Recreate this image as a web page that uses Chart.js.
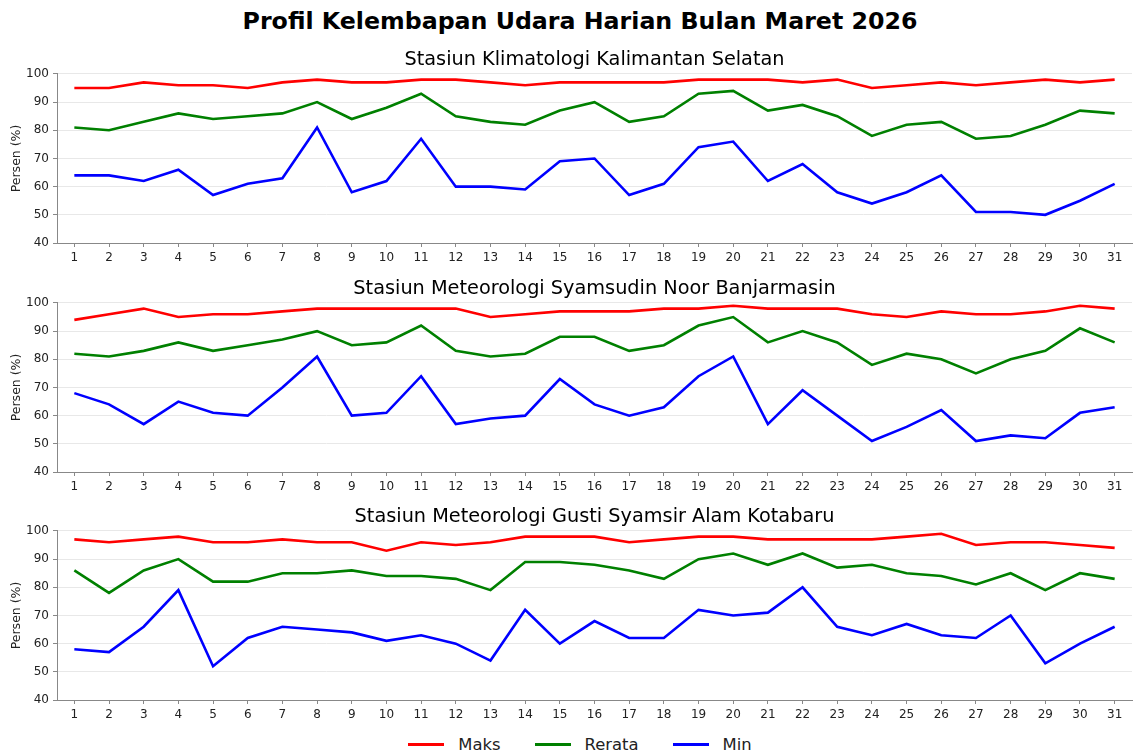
<!DOCTYPE html>
<html>
<head>
<meta charset="utf-8">
<script src="https://cdn.jsdelivr.net/npm/chart.js@4.4.0/dist/chart.umd.min.js"></script>
<style>
  body { margin: 0; background: #fff; width: 1133px; height: 755px; overflow: hidden; font-family: "DejaVu Sans", sans-serif; }
  .panel { position: absolute; left: 0; width: 1133px; }
  #title { position: absolute; left: 0; top: 6px; width: 1160px; text-align: center; font-size: 23.7px; font-weight: bold; line-height: 30px; color: #000; }
  #legend { position: absolute; left: 0; top: 732px; width: 1160px; height: 24px; display: flex; justify-content: center; align-items: center; font-size: 16.4px; color: #222; }
  .item { display: flex; align-items: center; margin: 0 17px; }
  .swatch { width: 36px; height: 3px; margin-right: 14px; }
</style>
</head>
<body>
<div id="title">Profil Kelembapan Udara Harian Bulan Maret 2026</div>
<div class="panel" style="top:46px;height:223px"><canvas id="c1"></canvas></div>
<div class="panel" style="top:275px;height:223px"><canvas id="c2"></canvas></div>
<div class="panel" style="top:503px;height:223px"><canvas id="c3"></canvas></div>
<div id="legend"></div>
<script>
// data: relative humidity, March 2026
const days = [];
for (let d = 1; d <= 31; d++) days.push(String(d));

const seriesNames = ['Maks', 'Rerata', 'Min'];
const seriesColors = ['#ff0000', '#008000', '#0000ff'];
const yTicks = [40, 50, 60, 70, 80, 90, 100];

const stations = [
    'Stasiun Klimatologi Kalimantan Selatan',
    'Stasiun Meteorologi Syamsudin Noor Banjarmasin',
    'Stasiun Meteorologi Gusti Syamsir Alam Kotabaru'
];

// Stasiun Klimatologi Kalimantan Selatan
const klimMaks   = [95, 95, 97, 96, 96, 95, 97, 98, 97, 97, 98, 98, 97, 96, 97, 97, 97, 97, 98, 98, 98, 97, 98, 95, 96, 97, 96, 97, 98, 97, 98];
const klimRerata = [81, 80, 83, 86, 84, 85, 86, 90, 84, 88, 93, 85, 83, 82, 87, 90, 83, 85, 93, 94, 87, 89, 85, 78, 82, 83, 77, 78, 82, 87, 86];
const klimMin    = [64, 64, 62, 66, 57, 61, 63, 81, 58, 62, 77, 60, 60, 59, 69, 70, 57, 61, 74, 76, 62, 68, 58, 54, 58, 64, 51, 51, 50, 55, 61];

// Stasiun Meteorologi Syamsudin Noor
const bjmMaks   = [94, 96, 98, 95, 96, 96, 97, 98, 98, 98, 98, 98, 95, 96, 97, 97, 97, 98, 98, 99, 98, 98, 98, 96, 95, 97, 96, 96, 97, 99, 98];
const bjmRerata = [82, 81, 83, 86, 83, 85, 87, 90, 85, 86, 92, 83, 81, 82, 88, 88, 83, 85, 92, 95, 86, 90, 86, 78, 82, 80, 75, 80, 83, 91, 86];
const bjmMin    = [68, 64, 57, 65, 61, 60, 70, 81, 60, 61, 74, 57, 59, 60, 73, 64, 60, 63, 74, 81, 57, 69, 60, 51, 56, 62, 51, 53, 52, 61, 63];

// Stasiun Meteorologi Gusti Syamsir Alam
const ktbMaks   = [97, 96, 97, 98, 96, 96, 97, 96, 96, 93, 96, 95, 96, 98, 98, 98, 96, 97, 98, 98, 97, 97, 97, 97, 98, 99, 95, 96, 96, 95, 94];
const ktbRerata = [86, 78, 86, 90, 82, 82, 85, 85, 86, 84, 84, 83, 79, 89, 89, 88, 86, 83, 90, 92, 88, 92, 87, 88, 85, 84, 81, 85, 79, 85, 83];
const ktbMin    = [58, 57, 66, 79, 52, 62, 66, 65, 64, 61, 63, 60, 54, 72, 60, 68, 62, 62, 72, 70, 71, 80, 66, 63, 67, 63, 62, 70, 53, 60, 66];

const allSeries = [
    [klimMaks, klimRerata, klimMin],
    [bjmMaks, bjmRerata, bjmMin],
    [ktbMaks, ktbRerata, ktbMin]
];

Chart.defaults.font.family = '"DejaVu Sans", sans-serif';
Chart.defaults.color = '#222';

function makeChart(id, idx) {
    return new Chart(document.getElementById(id), {
        type: 'line',
        data: {
            labels: days,
            datasets: seriesNames.map((name, i) => ({
                label: name,
                data: allSeries[idx][i],
                borderColor: seriesColors[i],
                backgroundColor: seriesColors[i],
                borderWidth: 2.6,
                pointRadius: 0,
                tension: 0,
                fill: false
            }))
        },
        options: {
            responsive: true,
            maintainAspectRatio: false,
            animation: false,
            layout: { padding: { left: 0, right: 1, top: 0, bottom: 0 } },
            scales: {
                x: {
                    offset: true,
                    grid: {
                        offset: false,
                        drawOnChartArea: false,
                        drawTicks: true,
                        tickLength: 4,
                        tickColor: '#888'
                    },
                    border: { display: true, color: '#888', width: 1 },
                    ticks: { font: { size: 12 }, padding: 4, maxRotation: 0, autoSkip: false },
                    afterFit: (scale) => { scale.height = 26; }
                },
                y: {
                    min: yTicks[0],
                    max: yTicks[yTicks.length - 1],
                    ticks: {
                        stepSize: 5,
                        font: { size: 12 },
                        padding: 4,
                        callback: (v) => (yTicks.includes(v) ? v : '')
                    },
                    grid: {
                        color: (ctx) => (ctx.tick && yTicks.includes(ctx.tick.value) ? '#e8e8e8' : 'rgba(0,0,0,0)'),
                        tickColor: '#888',
                        tickLength: 4
                    },
                    border: { display: true, color: '#888', width: 1 },
                    title: {
                        display: true,
                        text: 'Persen (%)',
                        font: { size: 12.5 },
                        padding: { top: 9.5, bottom: 2 }
                    },
                    afterFit: (scale) => { scale.width = 57; }
                }
            },
            plugins: {
                title: {
                    display: true,
                    fullSize: false,
                    text: stations[idx],
                    color: '#000',
                    font: { size: 19.3, weight: 'normal' },
                    padding: { top: 2.4, bottom: 2.4 }
                },
                legend: { display: false },
                tooltip: { enabled: false }
            }
        }
    });
}

makeChart('c1', 0);
makeChart('c2', 1);
makeChart('c3', 2);

// legend under the last panel
const legend = document.getElementById('legend');
seriesNames.forEach((name, i) => {
    const item = document.createElement('div');
    item.className = 'item';
    const sw = document.createElement('span');
    sw.className = 'swatch';
    sw.style.background = seriesColors[i];
    const txt = document.createElement('span');
    txt.textContent = name;
    item.appendChild(sw);
    item.appendChild(txt);
    legend.appendChild(item);
});
</script>
</body>
</html>
